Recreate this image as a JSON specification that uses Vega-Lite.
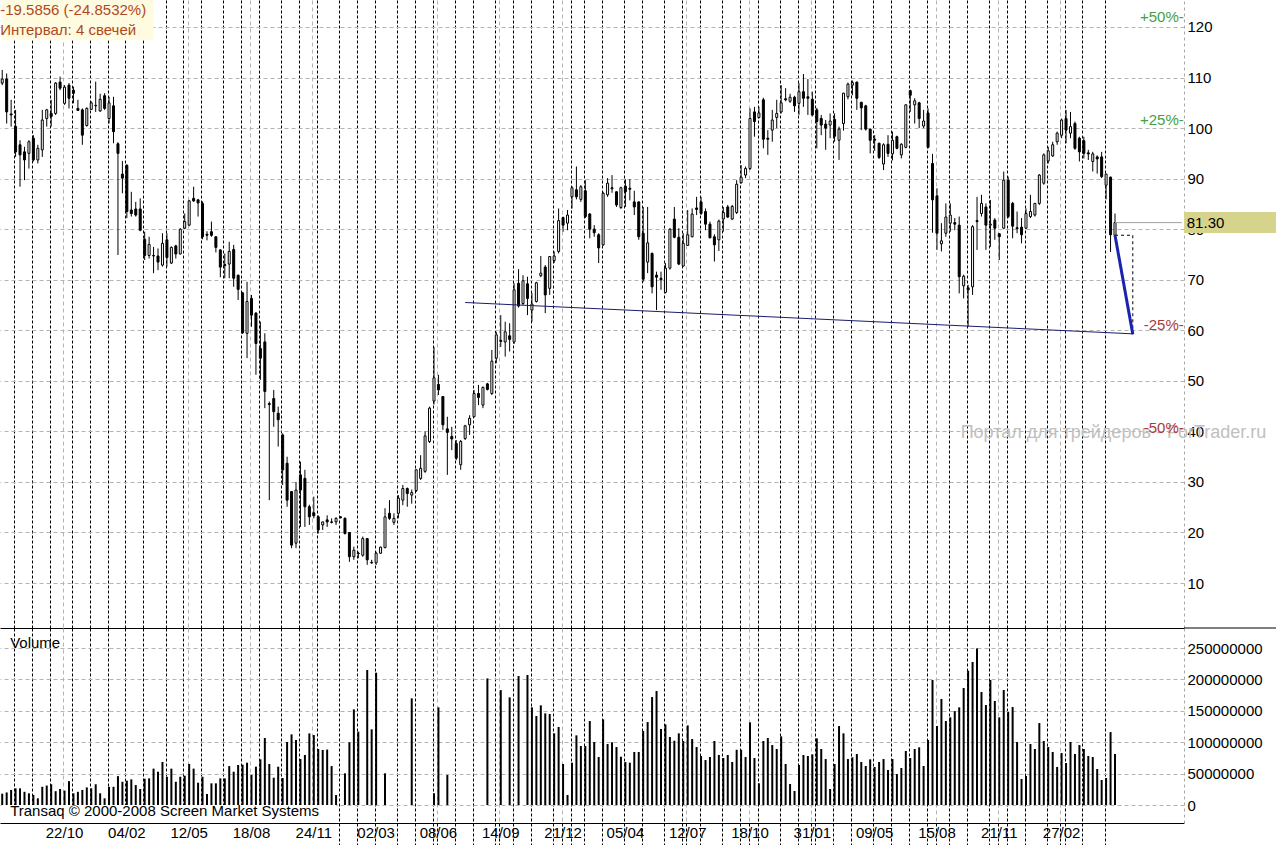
{
"$schema": "https://vega.github.io/schema/vega-lite/v6.json",
"padding": 0,
"background": "white",
"spacing": 0,
"bounds": "flush",
"config": {"view": {"stroke": null}, "font": "Liberation Sans", "axis": {"labelOverlap": false}},
"datasets": {
"one": [{}],
"bars": [
{"d":"2007-07-16","o":108.9,"h":111.5,"l":108.5,"c":109.7,"v":18000000},
{"d":"2007-07-23","o":109.7,"h":110.8,"l":100.9,"c":103.2,"v":20000000},
{"d":"2007-07-30","o":102.8,"h":105.6,"l":100.3,"c":102.6,"v":24000000},
{"d":"2007-08-06","o":100.3,"h":103.6,"l":94.3,"c":95.3,"v":26500000},
{"d":"2007-08-13","o":96.7,"h":97.6,"l":88.4,"c":94.7,"v":26500000},
{"d":"2007-08-20","o":95.3,"h":96.3,"l":89.7,"c":93.7,"v":21000000},
{"d":"2007-08-27","o":95.0,"h":97.6,"l":92.0,"c":97.3,"v":18600000},
{"d":"2007-09-03","o":98.0,"h":98.6,"l":93.4,"c":93.7,"v":16000000},
{"d":"2007-09-10","o":93.7,"h":96.7,"l":93.0,"c":96.0,"v":10600000},
{"d":"2007-09-17","o":95.7,"h":103.6,"l":94.3,"c":101.6,"v":29000000},
{"d":"2007-09-24","o":101.9,"h":103.8,"l":100.3,"c":103.6,"v":31000000},
{"d":"2007-10-01","o":102.9,"h":105.6,"l":100.3,"c":102.3,"v":33000000},
{"d":"2007-10-08","o":102.9,"h":109.1,"l":102.6,"c":108.9,"v":22000000},
{"d":"2007-10-15","o":109.1,"h":110.2,"l":107.5,"c":107.9,"v":25500000},
{"d":"2007-10-22","o":104.9,"h":108.5,"l":104.6,"c":108.1,"v":23000000},
{"d":"2007-10-29","o":108.5,"h":108.9,"l":103.9,"c":105.9,"v":38000000},
{"d":"2007-11-05","o":107.5,"h":108.2,"l":104.9,"c":106.9,"v":18600000},
{"d":"2007-11-12","o":103.9,"h":105.6,"l":103.4,"c":103.5,"v":21000000},
{"d":"2007-11-19","o":103.6,"h":103.9,"l":96.7,"c":98.6,"v":24000000},
{"d":"2007-11-26","o":100.5,"h":104.1,"l":100.3,"c":103.9,"v":28000000},
{"d":"2007-12-03","o":103.7,"h":105.3,"l":103.6,"c":105.0,"v":26500000},
{"d":"2007-12-10","o":104.4,"h":109.2,"l":103.2,"c":104.5,"v":33000000},
{"d":"2007-12-17","o":103.4,"h":106.8,"l":103.2,"c":105.7,"v":18600000},
{"d":"2007-12-24","o":106.4,"h":106.9,"l":103.6,"c":103.9,"v":10600000},
{"d":"2008-01-07","o":101.9,"h":106.2,"l":100.9,"c":105.0,"v":29000000},
{"d":"2008-01-14","o":104.4,"h":106.2,"l":97.0,"c":99.3,"v":29000000},
{"d":"2008-01-21","o":96.9,"h":97.2,"l":74.9,"c":95.0,"v":46000000},
{"d":"2008-01-28","o":90.9,"h":93.5,"l":87.1,"c":90.1,"v":37000000},
{"d":"2008-02-04","o":92.6,"h":92.9,"l":82.2,"c":83.5,"v":38700000},
{"d":"2008-02-11","o":83.8,"h":87.4,"l":82.5,"c":83.1,"v":40800000},
{"d":"2008-02-18","o":84.0,"h":85.4,"l":82.5,"c":82.8,"v":31800000},
{"d":"2008-02-25","o":84.0,"h":86.1,"l":79.6,"c":79.8,"v":25500000},
{"d":"2008-03-03","o":78.0,"h":79.5,"l":73.9,"c":74.8,"v":41900000},
{"d":"2008-03-10","o":74.8,"h":78.5,"l":74.2,"c":77.0,"v":42400000},
{"d":"2008-03-17","o":74.8,"h":76.5,"l":71.3,"c":74.7,"v":57900000},
{"d":"2008-03-24","o":74.7,"h":76.2,"l":71.9,"c":73.5,"v":53000000},
{"d":"2008-03-31","o":72.9,"h":79.2,"l":72.6,"c":77.2,"v":68500000},
{"d":"2008-04-07","o":77.9,"h":79.2,"l":72.6,"c":74.4,"v":45000000},
{"d":"2008-04-14","o":73.3,"h":76.6,"l":73.1,"c":76.4,"v":57900000},
{"d":"2008-04-21","o":76.7,"h":76.9,"l":74.2,"c":75.1,"v":37000000},
{"d":"2008-04-28","o":75.1,"h":80.2,"l":75.0,"c":80.0,"v":45000000},
{"d":"2008-05-05","o":80.2,"h":83.1,"l":80.0,"c":81.5,"v":46700000},
{"d":"2008-05-12","o":80.8,"h":85.8,"l":80.6,"c":85.6,"v":65300000},
{"d":"2008-05-19","o":86.1,"h":88.4,"l":85.4,"c":85.6,"v":57900000},
{"d":"2008-05-26","o":85.8,"h":86.0,"l":82.5,"c":85.2,"v":35500000},
{"d":"2008-06-02","o":85.1,"h":85.5,"l":78.0,"c":78.5,"v":45000000},
{"d":"2008-06-09","o":79.0,"h":79.6,"l":77.8,"c":78.8,"v":17500000},
{"d":"2008-06-16","o":79.5,"h":81.5,"l":78.5,"c":78.8,"v":34500000},
{"d":"2008-06-23","o":78.5,"h":78.6,"l":75.4,"c":76.4,"v":34500000},
{"d":"2008-06-30","o":75.9,"h":76.0,"l":70.5,"c":72.5,"v":42400000},
{"d":"2008-07-07","o":73.0,"h":75.2,"l":70.3,"c":72.8,"v":42400000},
{"d":"2008-07-14","o":73.1,"h":77.5,"l":70.3,"c":75.6,"v":62000000},
{"d":"2008-07-21","o":76.0,"h":76.9,"l":68.6,"c":70.3,"v":53000000},
{"d":"2008-07-28","o":70.9,"h":71.0,"l":66.0,"c":68.1,"v":63700000},
{"d":"2008-08-04","o":67.4,"h":67.6,"l":59.3,"c":59.5,"v":64200000},
{"d":"2008-08-11","o":59.4,"h":69.6,"l":54.5,"c":65.7,"v":67400000},
{"d":"2008-08-18","o":66.3,"h":67.0,"l":60.7,"c":63.0,"v":47800000},
{"d":"2008-08-25","o":63.4,"h":63.6,"l":51.2,"c":57.4,"v":61000000},
{"d":"2008-09-01","o":56.4,"h":61.7,"l":50.2,"c":54.5,"v":72700000},
{"d":"2008-09-08","o":57.7,"h":59.4,"l":44.6,"c":47.9,"v":106700000},
{"d":"2008-09-15","o":45.5,"h":45.9,"l":26.4,"c":45.3,"v":65300000},
{"d":"2008-09-22","o":46.5,"h":48.2,"l":40.9,"c":43.9,"v":43500000},
{"d":"2008-09-29","o":43.6,"h":44.9,"l":37.0,"c":42.3,"v":61000000},
{"d":"2008-10-06","o":39.3,"h":39.6,"l":29.4,"c":32.4,"v":43000000},
{"d":"2008-10-13","o":33.7,"h":35.0,"l":25.1,"c":26.4,"v":100300000},
{"d":"2008-10-20","o":28.1,"h":28.2,"l":16.9,"c":17.5,"v":112500000},
{"d":"2008-10-27","o":17.9,"h":30.0,"l":16.9,"c":28.4,"v":103500000},
{"d":"2008-11-03","o":31.4,"h":34.0,"l":21.1,"c":28.4,"v":73200000},
{"d":"2008-11-10","o":30.7,"h":32.4,"l":21.1,"c":25.1,"v":79600000},
{"d":"2008-11-17","o":25.1,"h":25.5,"l":21.5,"c":23.1,"v":114000000},
{"d":"2008-11-24","o":23.9,"h":27.1,"l":22.8,"c":23.3,"v":111400000},
{"d":"2008-12-01","o":23.1,"h":23.4,"l":19.8,"c":20.5,"v":89200000},
{"d":"2008-12-08","o":21.5,"h":22.1,"l":20.5,"c":22.1,"v":87600000},
{"d":"2008-12-15","o":22.5,"h":23.4,"l":21.1,"c":22.1,"v":88300000},
{"d":"2008-12-22","o":22.1,"h":22.8,"l":21.8,"c":22.0,"v":62000000},
{"d":"2008-12-29","o":22.1,"h":23.0,"l":21.5,"c":22.8,"v":15900000},
{"d":"2009-01-05","o":23.1,"h":23.2,"l":22.8,"c":22.9},
{"d":"2009-01-12","o":22.8,"h":23.0,"l":19.6,"c":19.8,"v":50400000},
{"d":"2009-01-19","o":20.0,"h":20.1,"l":14.2,"c":15.2,"v":99800000},
{"d":"2009-01-26","o":15.2,"h":17.2,"l":14.6,"c":16.5,"v":152300000},
{"d":"2009-02-02","o":15.9,"h":16.2,"l":14.9,"c":15.8,"v":116800000},
{"d":"2009-02-09","o":15.5,"h":19.2,"l":15.2,"c":18.8},
{"d":"2009-02-16","o":18.8,"h":18.9,"l":13.6,"c":14.6,"v":214900000},
{"d":"2009-02-23","o":14.1,"h":14.6,"l":13.8,"c":14.0,"v":120500000},
{"d":"2009-03-02","o":14.0,"h":16.2,"l":13.6,"c":15.9,"v":210700000},
{"d":"2009-03-09","o":15.9,"h":17.2,"l":15.8,"c":17.1},
{"d":"2009-03-16","o":17.0,"h":24.8,"l":16.9,"c":23.1,"v":50400000},
{"d":"2009-03-23","o":23.8,"h":26.4,"l":22.5,"c":22.8},
{"d":"2009-03-30","o":22.0,"h":23.8,"l":21.5,"c":22.8},
{"d":"2009-04-06","o":23.8,"h":27.4,"l":22.8,"c":26.8},
{"d":"2009-04-13","o":26.4,"h":29.4,"l":25.4,"c":28.7},
{"d":"2009-04-20","o":28.7,"h":28.9,"l":25.1,"c":27.7},
{"d":"2009-04-27","o":27.4,"h":28.5,"l":25.7,"c":27.9,"v":169800000},
{"d":"2009-05-04","o":28.3,"h":32.5,"l":28.0,"c":32.4},
{"d":"2009-05-11","o":30.7,"h":35.3,"l":30.4,"c":32.7},
{"d":"2009-05-18","o":32.1,"h":40.0,"l":31.8,"c":39.1},
{"d":"2009-05-25","o":38.0,"h":44.9,"l":37.7,"c":44.6},
{"d":"2009-06-01","o":46.0,"h":56.7,"l":45.3,"c":50.6,"v":18600000},
{"d":"2009-06-08","o":49.3,"h":51.2,"l":47.2,"c":48.2,"v":155500000},
{"d":"2009-06-15","o":46.9,"h":47.0,"l":40.3,"c":41.3},
{"d":"2009-06-22","o":40.5,"h":42.9,"l":31.4,"c":39.8,"v":47800000},
{"d":"2009-06-29","o":39.0,"h":40.9,"l":36.3,"c":38.5},
{"d":"2009-07-06","o":37.6,"h":38.3,"l":34.3,"c":34.7},
{"d":"2009-07-13","o":33.4,"h":38.3,"l":32.4,"c":38.0},
{"d":"2009-07-20","o":38.6,"h":41.3,"l":38.3,"c":41.1},
{"d":"2009-07-27","o":41.3,"h":43.2,"l":39.3,"c":42.6},
{"d":"2009-08-03","o":42.9,"h":48.2,"l":42.8,"c":47.5},
{"d":"2009-08-10","o":47.5,"h":49.2,"l":45.2,"c":46.7},
{"d":"2009-08-17","o":45.2,"h":48.9,"l":44.6,"c":48.7},
{"d":"2009-08-24","o":49.4,"h":49.6,"l":48.1,"c":48.3,"v":201600000},
{"d":"2009-08-31","o":47.5,"h":56.1,"l":47.2,"c":53.9},
{"d":"2009-09-07","o":54.5,"h":59.7,"l":53.5,"c":59.1},
{"d":"2009-09-14","o":58.0,"h":63.0,"l":56.7,"c":57.8,"v":183000000},
{"d":"2009-09-21","o":57.7,"h":61.7,"l":54.8,"c":59.7},
{"d":"2009-09-28","o":58.9,"h":61.4,"l":55.8,"c":58.2,"v":171400000},
{"d":"2009-10-05","o":57.7,"h":69.3,"l":57.3,"c":68.0},
{"d":"2009-10-12","o":69.3,"h":72.1,"l":64.5,"c":64.8,"v":205400000},
{"d":"2009-10-19","o":65.3,"h":70.9,"l":65.0,"c":69.8},
{"d":"2009-10-26","o":69.2,"h":70.6,"l":63.0,"c":66.3,"v":207000000},
{"d":"2009-11-02","o":64.0,"h":67.4,"l":61.7,"c":65.2,"v":155500000},
{"d":"2009-11-09","o":65.7,"h":69.6,"l":65.5,"c":69.4,"v":141700000},
{"d":"2009-11-16","o":70.8,"h":74.7,"l":70.5,"c":71.3,"v":158700000},
{"d":"2009-11-23","o":72.5,"h":72.9,"l":63.4,"c":67.0,"v":145900000},
{"d":"2009-11-30","o":68.3,"h":74.7,"l":67.0,"c":74.6,"v":144900000},
{"d":"2009-12-07","o":73.8,"h":75.6,"l":73.3,"c":74.7,"v":114100000},
{"d":"2009-12-14","o":75.6,"h":84.1,"l":75.2,"c":81.7,"v":124200000},
{"d":"2009-12-21","o":82.3,"h":82.5,"l":79.5,"c":80.8,"v":65300000},
{"d":"2009-12-28","o":81.2,"h":83.8,"l":79.8,"c":82.8,"v":15900000},
{"d":"2010-01-11","o":86.4,"h":88.5,"l":84.1,"c":88.2,"v":67400000},
{"d":"2010-01-18","o":87.8,"h":92.4,"l":85.9,"c":86.4,"v":110900000},
{"d":"2010-01-25","o":85.9,"h":88.7,"l":85.4,"c":88.4,"v":93900000},
{"d":"2010-02-01","o":87.6,"h":89.7,"l":82.2,"c":82.5,"v":93900000},
{"d":"2010-02-08","o":83.0,"h":83.2,"l":78.2,"c":80.0,"v":133700000},
{"d":"2010-02-15","o":80.0,"h":80.8,"l":78.5,"c":79.3,"v":100300000},
{"d":"2010-02-22","o":78.9,"h":79.2,"l":73.3,"c":76.3,"v":76400000},
{"d":"2010-03-01","o":76.9,"h":87.4,"l":76.7,"c":87.1,"v":136400000},
{"d":"2010-03-08","o":86.8,"h":90.1,"l":86.4,"c":89.1,"v":97100000},
{"d":"2010-03-15","o":88.2,"h":90.7,"l":87.2,"c":88.0,"v":99800000},
{"d":"2010-03-22","o":87.4,"h":87.5,"l":84.4,"c":84.8,"v":92300000},
{"d":"2010-03-29","o":84.3,"h":88.4,"l":84.0,"c":88.2,"v":76900000},
{"d":"2010-04-05","o":88.5,"h":89.9,"l":84.4,"c":87.4,"v":68500000},
{"d":"2010-04-12","o":88.1,"h":89.9,"l":85.7,"c":87.9,"v":67400000},
{"d":"2010-04-19","o":85.4,"h":87.6,"l":82.8,"c":84.4,"v":84400000},
{"d":"2010-04-26","o":85.4,"h":85.5,"l":77.9,"c":78.5,"v":84400000},
{"d":"2010-05-03","o":79.2,"h":84.4,"l":69.6,"c":70.1,"v":117800000},
{"d":"2010-05-10","o":73.5,"h":84.4,"l":71.3,"c":77.3,"v":132100000},
{"d":"2010-05-17","o":75.2,"h":75.4,"l":67.3,"c":68.6,"v":171900000},
{"d":"2010-05-24","o":70.9,"h":71.6,"l":64.0,"c":70.5,"v":181500000},
{"d":"2010-05-31","o":70.3,"h":71.6,"l":68.0,"c":70.0,"v":121000000},
{"d":"2010-06-07","o":67.5,"h":73.3,"l":67.3,"c":72.3,"v":128400000},
{"d":"2010-06-14","o":72.3,"h":80.2,"l":72.0,"c":80.0,"v":108300000},
{"d":"2010-06-21","o":82.0,"h":84.4,"l":78.2,"c":78.4,"v":102400000},
{"d":"2010-06-28","o":78.4,"h":80.2,"l":72.9,"c":73.1,"v":114100000},
{"d":"2010-07-05","o":72.7,"h":79.2,"l":72.6,"c":77.2,"v":101900000},
{"d":"2010-07-12","o":76.8,"h":83.8,"l":76.7,"c":78.9,"v":126800000},
{"d":"2010-07-19","o":78.5,"h":84.1,"l":78.4,"c":83.0,"v":105100000},
{"d":"2010-07-26","o":84.2,"h":86.4,"l":82.8,"c":83.9,"v":92300000},
{"d":"2010-08-02","o":85.4,"h":86.4,"l":82.8,"c":83.1,"v":78000000},
{"d":"2010-08-09","o":83.5,"h":84.1,"l":79.8,"c":81.0,"v":71600000},
{"d":"2010-08-16","o":81.0,"h":81.5,"l":78.2,"c":78.3,"v":76400000},
{"d":"2010-08-23","o":78.5,"h":79.0,"l":73.6,"c":76.9,"v":101900000},
{"d":"2010-08-30","o":77.9,"h":81.9,"l":75.7,"c":81.6,"v":79600000},
{"d":"2010-09-06","o":82.0,"h":84.4,"l":79.5,"c":83.3,"v":74800000},
{"d":"2010-09-13","o":84.4,"h":84.8,"l":82.2,"c":82.4,"v":79600000},
{"d":"2010-09-20","o":82.0,"h":84.8,"l":81.8,"c":84.5,"v":68500000},
{"d":"2010-09-27","o":83.3,"h":89.7,"l":83.0,"c":88.9,"v":88000000},
{"d":"2010-10-04","o":89.2,"h":92.7,"l":89.0,"c":90.3,"v":88000000},
{"d":"2010-10-11","o":90.7,"h":92.4,"l":90.1,"c":92.0,"v":76400000},
{"d":"2010-10-18","o":92.0,"h":103.9,"l":91.7,"c":101.9,"v":131600000},
{"d":"2010-10-25","o":103.2,"h":104.2,"l":98.3,"c":101.3,"v":74800000},
{"d":"2010-11-01","o":102.1,"h":104.2,"l":101.9,"c":103.0,"v":34500000},
{"d":"2010-11-08","o":105.6,"h":106.0,"l":96.0,"c":97.8,"v":101900000},
{"d":"2010-11-15","o":98.0,"h":99.6,"l":94.7,"c":97.8,"v":106700000},
{"d":"2010-11-22","o":99.6,"h":103.6,"l":97.3,"c":101.6,"v":95500000},
{"d":"2010-11-29","o":102.1,"h":105.6,"l":100.0,"c":102.9,"v":89200000},
{"d":"2010-12-06","o":103.2,"h":108.5,"l":102.9,"c":105.0,"v":109300000},
{"d":"2010-12-13","o":105.8,"h":107.9,"l":105.3,"c":105.6,"v":65300000},
{"d":"2010-12-20","o":105.3,"h":106.8,"l":105.0,"c":106.1,"v":33400000},
{"d":"2010-12-27","o":106.1,"h":106.4,"l":103.2,"c":104.4,"v":22300000},
{"d":"2011-01-10","o":104.9,"h":108.9,"l":102.6,"c":107.2,"v":63700000},
{"d":"2011-01-17","o":107.2,"h":110.7,"l":104.2,"c":105.9,"v":79600000},
{"d":"2011-01-24","o":106.2,"h":109.7,"l":102.6,"c":105.9,"v":78000000},
{"d":"2011-01-31","o":105.7,"h":107.2,"l":102.3,"c":102.6,"v":80700000},
{"d":"2011-02-07","o":103.6,"h":104.0,"l":96.0,"c":101.3,"v":106100000},
{"d":"2011-02-14","o":101.9,"h":102.6,"l":98.6,"c":100.6,"v":89200000},
{"d":"2011-02-21","o":100.8,"h":101.6,"l":95.7,"c":100.0,"v":73200000},
{"d":"2011-02-28","o":100.6,"h":102.9,"l":98.0,"c":101.4,"v":25500000},
{"d":"2011-03-07","o":101.7,"h":102.9,"l":97.3,"c":98.4,"v":65300000},
{"d":"2011-03-14","o":97.6,"h":100.3,"l":93.7,"c":99.8,"v":125800000},
{"d":"2011-03-21","o":100.9,"h":107.0,"l":99.5,"c":106.9,"v":114100000},
{"d":"2011-03-28","o":106.2,"h":109.0,"l":105.7,"c":108.7,"v":73200000},
{"d":"2011-04-04","o":108.5,"h":109.4,"l":106.5,"c":109.0,"v":75900000},
{"d":"2011-04-11","o":109.1,"h":109.2,"l":103.6,"c":105.9,"v":81200000},
{"d":"2011-04-18","o":105.1,"h":105.2,"l":99.6,"c":104.0,"v":68500000},
{"d":"2011-04-25","o":104.4,"h":104.6,"l":99.5,"c":99.8,"v":62100000},
{"d":"2011-05-02","o":99.8,"h":99.9,"l":95.0,"c":97.6,"v":72700000},
{"d":"2011-05-09","o":97.8,"h":98.6,"l":95.5,"c":97.6,"v":60500000},
{"d":"2011-05-16","o":97.0,"h":97.1,"l":93.9,"c":94.2,"v":68500000},
{"d":"2011-05-23","o":92.9,"h":97.0,"l":91.7,"c":96.7,"v":73200000},
{"d":"2011-05-30","o":96.8,"h":98.6,"l":94.3,"c":95.0,"v":55700000},
{"d":"2011-06-06","o":94.9,"h":99.3,"l":93.6,"c":97.6,"v":73200000},
{"d":"2011-06-13","o":98.3,"h":98.5,"l":95.8,"c":96.0,"v":49400000},
{"d":"2011-06-20","o":94.7,"h":97.0,"l":94.0,"c":96.8,"v":58900000},
{"d":"2011-06-27","o":96.2,"h":104.7,"l":96.0,"c":104.6,"v":86000000},
{"d":"2011-07-04","o":107.4,"h":107.6,"l":103.2,"c":106.5,"v":74800000},
{"d":"2011-07-11","o":104.6,"h":105.9,"l":100.9,"c":105.4,"v":89200000},
{"d":"2011-07-18","o":105.0,"h":105.2,"l":100.0,"c":101.9,"v":91800000},
{"d":"2011-07-25","o":100.4,"h":103.6,"l":100.0,"c":101.4,"v":62100000},
{"d":"2011-08-01","o":103.0,"h":103.9,"l":96.0,"c":96.2,"v":103500000},
{"d":"2011-08-08","o":93.0,"h":94.9,"l":79.3,"c":85.8,"v":199000000},
{"d":"2011-08-15","o":86.6,"h":88.1,"l":75.9,"c":79.2,"v":125800000},
{"d":"2011-08-22","o":77.1,"h":81.2,"l":75.6,"c":77.7,"v":168800000},
{"d":"2011-08-29","o":79.2,"h":85.1,"l":78.5,"c":82.4,"v":133700000},
{"d":"2011-09-05","o":81.2,"h":85.1,"l":79.5,"c":82.8,"v":139600000},
{"d":"2011-09-12","o":81.3,"h":82.2,"l":79.8,"c":81.0,"v":149600000},
{"d":"2011-09-19","o":80.8,"h":82.5,"l":67.3,"c":70.6,"v":155500000},
{"d":"2011-09-26","o":68.8,"h":71.0,"l":66.3,"c":70.7,"v":186300000},
{"d":"2011-10-03","o":68.4,"h":69.0,"l":60.7,"c":68.0,"v":213800000},
{"d":"2011-10-10","o":68.6,"h":80.8,"l":67.0,"c":80.5,"v":227700000},
{"d":"2011-10-17","o":81.7,"h":86.4,"l":75.9,"c":81.5,"v":249400000},
{"d":"2011-10-24","o":83.1,"h":86.8,"l":82.5,"c":85.1,"v":179900000},
{"d":"2011-10-31","o":84.4,"h":85.1,"l":75.9,"c":80.8,"v":159200000},
{"d":"2011-11-07","o":80.8,"h":85.8,"l":76.5,"c":81.0,"v":199000000},
{"d":"2011-11-14","o":81.8,"h":82.2,"l":77.9,"c":80.2,"v":165600000},
{"d":"2011-11-21","o":79.1,"h":79.2,"l":73.9,"c":78.5,"v":139600000},
{"d":"2011-11-28","o":80.2,"h":91.4,"l":80.0,"c":89.7,"v":183100000},
{"d":"2011-12-05","o":89.7,"h":90.4,"l":82.2,"c":82.5,"v":148100000},
{"d":"2011-12-12","o":85.1,"h":85.4,"l":78.2,"c":80.6,"v":156000000},
{"d":"2011-12-19","o":80.3,"h":83.5,"l":79.2,"c":80.1,"v":100300000},
{"d":"2011-12-26","o":80.4,"h":82.2,"l":77.2,"c":78.9,"v":41400000},
{"d":"2012-01-02","o":80.2,"h":84.1,"l":80.0,"c":83.1,"v":46200000},
{"d":"2012-01-09","o":82.5,"h":86.8,"l":82.2,"c":83.5,"v":97100000},
{"d":"2012-01-16","o":82.8,"h":85.2,"l":82.5,"c":85.1,"v":89200000},
{"d":"2012-01-23","o":85.1,"h":90.9,"l":84.8,"c":90.7,"v":130500000},
{"d":"2012-01-30","o":89.1,"h":95.0,"l":88.8,"c":94.7,"v":101900000},
{"d":"2012-02-06","o":93.5,"h":96.3,"l":93.0,"c":95.5,"v":92300000},
{"d":"2012-02-13","o":94.5,"h":97.3,"l":94.3,"c":96.7,"v":84400000},
{"d":"2012-02-20","o":97.3,"h":99.3,"l":96.7,"c":99.0,"v":60500000},
{"d":"2012-02-27","o":98.6,"h":101.9,"l":98.0,"c":101.6,"v":82800000},
{"d":"2012-03-05","o":101.9,"h":103.6,"l":97.0,"c":99.6,"v":66900000},
{"d":"2012-03-12","o":99.0,"h":103.2,"l":98.0,"c":100.3,"v":100300000},
{"d":"2012-03-19","o":100.9,"h":101.3,"l":95.7,"c":96.0,"v":81200000},
{"d":"2012-03-26","o":98.0,"h":98.3,"l":93.4,"c":95.3,"v":95500000},
{"d":"2012-04-02","o":97.5,"h":98.3,"l":94.0,"c":95.0,"v":89200000},
{"d":"2012-04-09","o":95.1,"h":95.7,"l":93.7,"c":94.9,"v":78000000},
{"d":"2012-04-16","o":93.4,"h":95.3,"l":91.4,"c":94.9,"v":76400000},
{"d":"2012-04-23","o":94.3,"h":94.6,"l":91.0,"c":93.9,"v":57300000},
{"d":"2012-04-30","o":94.3,"h":95.3,"l":90.1,"c":90.4,"v":39800000},
{"d":"2012-05-07","o":88.7,"h":91.0,"l":85.9,"c":90.9,"v":43000000},
{"d":"2012-05-14","o":90.3,"h":90.4,"l":75.5,"c":78.9,"v":116200000},
{"d":"2012-05-21","o":78.8,"h":83.1,"l":78.3,"c":81.3,"v":81200000}
],
"levels": [
{"lvl":121.95,"t":"+50%-"},
{"lvl":101.63,"t":"+25%-"},
{"lvl":60.98,"t":"-25%-"},
{"lvl":40.65,"t":"-50%-"}
]
},
"vconcat": [
{
"width": 1184,
"height": 628,
"data": {"name": "bars"},
"encoding": {
"x": {"field": "d", "type": "ordinal",
"scale": {"type": "band", "paddingInner": 0, "paddingOuter": 0, "domain": ["2007-07-16","2007-07-23","2007-07-30","2007-08-06","2007-08-13","2007-08-20","2007-08-27","2007-09-03","2007-09-10","2007-09-17","2007-09-24","2007-10-01","2007-10-08","2007-10-15","2007-10-22","2007-10-29","2007-11-05","2007-11-12","2007-11-19","2007-11-26","2007-12-03","2007-12-10","2007-12-17","2007-12-24","2008-01-07","2008-01-14","2008-01-21","2008-01-28","2008-02-04","2008-02-11","2008-02-18","2008-02-25","2008-03-03","2008-03-10","2008-03-17","2008-03-24","2008-03-31","2008-04-07","2008-04-14","2008-04-21","2008-04-28","2008-05-05","2008-05-12","2008-05-19","2008-05-26","2008-06-02","2008-06-09","2008-06-16","2008-06-23","2008-06-30","2008-07-07","2008-07-14","2008-07-21","2008-07-28","2008-08-04","2008-08-11","2008-08-18","2008-08-25","2008-09-01","2008-09-08","2008-09-15","2008-09-22","2008-09-29","2008-10-06","2008-10-13","2008-10-20","2008-10-27","2008-11-03","2008-11-10","2008-11-17","2008-11-24","2008-12-01","2008-12-08","2008-12-15","2008-12-22","2008-12-29","2009-01-05","2009-01-12","2009-01-19","2009-01-26","2009-02-02","2009-02-09","2009-02-16","2009-02-23","2009-03-02","2009-03-09","2009-03-16","2009-03-23","2009-03-30","2009-04-06","2009-04-13","2009-04-20","2009-04-27","2009-05-04","2009-05-11","2009-05-18","2009-05-25","2009-06-01","2009-06-08","2009-06-15","2009-06-22","2009-06-29","2009-07-06","2009-07-13","2009-07-20","2009-07-27","2009-08-03","2009-08-10","2009-08-17","2009-08-24","2009-08-31","2009-09-07","2009-09-14","2009-09-21","2009-09-28","2009-10-05","2009-10-12","2009-10-19","2009-10-26","2009-11-02","2009-11-09","2009-11-16","2009-11-23","2009-11-30","2009-12-07","2009-12-14","2009-12-21","2009-12-28","2010-01-11","2010-01-18","2010-01-25","2010-02-01","2010-02-08","2010-02-15","2010-02-22","2010-03-01","2010-03-08","2010-03-15","2010-03-22","2010-03-29","2010-04-05","2010-04-12","2010-04-19","2010-04-26","2010-05-03","2010-05-10","2010-05-17","2010-05-24","2010-05-31","2010-06-07","2010-06-14","2010-06-21","2010-06-28","2010-07-05","2010-07-12","2010-07-19","2010-07-26","2010-08-02","2010-08-09","2010-08-16","2010-08-23","2010-08-30","2010-09-06","2010-09-13","2010-09-20","2010-09-27","2010-10-04","2010-10-11","2010-10-18","2010-10-25","2010-11-01","2010-11-08","2010-11-15","2010-11-22","2010-11-29","2010-12-06","2010-12-13","2010-12-20","2010-12-27","2011-01-10","2011-01-17","2011-01-24","2011-01-31","2011-02-07","2011-02-14","2011-02-21","2011-02-28","2011-03-07","2011-03-14","2011-03-21","2011-03-28","2011-04-04","2011-04-11","2011-04-18","2011-04-25","2011-05-02","2011-05-09","2011-05-16","2011-05-23","2011-05-30","2011-06-06","2011-06-13","2011-06-20","2011-06-27","2011-07-04","2011-07-11","2011-07-18","2011-07-25","2011-08-01","2011-08-08","2011-08-15","2011-08-22","2011-08-29","2011-09-05","2011-09-12","2011-09-19","2011-09-26","2011-10-03","2011-10-10","2011-10-17","2011-10-24","2011-10-31","2011-11-07","2011-11-14","2011-11-21","2011-11-28","2011-12-05","2011-12-12","2011-12-19","2011-12-26","2012-01-02","2012-01-09","2012-01-16","2012-01-23","2012-01-30","2012-02-06","2012-02-13","2012-02-20","2012-02-27","2012-03-05","2012-03-12","2012-03-19","2012-03-26","2012-04-02","2012-04-09","2012-04-16","2012-04-23","2012-04-30","2012-05-07","2012-05-14","2012-05-21","2012-05-28","2012-06-04","2012-06-11","2012-06-18","2012-06-25","2012-07-02","2012-07-09","2012-07-16","2012-07-23","2012-07-30","2012-08-06","2012-08-13","2012-08-20","2012-08-27","2012-09-03"]},
"axis": {"orient": "bottom", "title": null, "labels": false, "ticks": false, "domain": true, "domainColor": "black", "domainWidth": 1, "bandPosition": 0.3, "grid": true, "gridWidth": 1, "gridOpacity": 1,
"values": ["2007-08-06","2007-09-03","2007-10-01","2007-11-05","2007-12-03","2008-01-07","2008-02-04","2008-03-03","2008-04-07","2008-05-05","2008-06-02","2008-07-07","2008-08-04","2008-09-01","2008-10-06","2008-11-03","2008-12-01","2009-01-05","2009-02-02","2009-03-02","2009-04-06","2009-05-04","2009-06-01","2009-07-06","2009-08-03","2009-09-07","2009-10-05","2009-11-02","2009-12-07","2010-01-11","2010-02-01","2010-03-01","2010-04-05","2010-05-03","2010-06-07","2010-07-05","2010-08-02","2010-09-06","2010-10-04","2010-11-01","2010-12-06","2011-01-10","2011-02-07","2011-03-07","2011-04-04","2011-05-09","2011-06-06","2011-07-04","2011-08-01","2011-09-05","2011-10-03","2011-11-07","2011-12-05","2012-01-02","2012-02-06","2012-03-05","2012-04-02","2012-05-07","2007-10-22","2008-05-12","2008-08-18","2008-11-24","2009-06-08","2009-09-14","2009-12-21","2010-07-12","2010-10-18","2011-01-31","2011-08-15","2011-11-21","2012-02-27"],
"gridColor": {"condition": {"test": "indexof(['2007-10-22','2008-05-12','2008-08-18','2008-11-24','2009-06-08','2009-09-14','2009-12-21','2010-07-12','2010-10-18','2011-01-31','2011-08-15','2011-11-21','2012-02-27'], datum.value) >= 0", "value": "#b4b4b4"}, "value": "#000000"},
"gridDash": {"condition": {"test": "indexof(['2007-10-22','2008-05-12','2008-08-18','2008-11-24','2009-06-08','2009-09-14','2009-12-21','2010-07-12','2010-10-18','2011-01-31','2011-08-15','2011-11-21','2012-02-27'], datum.value) >= 0", "value": [4, 3]}, "value": [3, 2]}
}
}
},
"layer": [
{"mark": {"type": "rule", "color": "black", "strokeWidth": 1},
"encoding": {"y": {"field": "l", "type": "quantitative", "scale": {"domain": [1.108, 125.34], "nice": false, "zero": false},
"axis": {"orient": "right", "title": null, "values": [10,20,30,40,50,60,70,80,90,100,110,120], "labelOverlap": false, "grid": true, "gridColor": "#b4b4b4", "gridDash": [4,3], "ticks": false, "domain": true, "domainColor": "#a8a8a8", "domainDash": [3,3], "labelFontSize": 15, "labelColor": "black", "labelPadding": 3, "labelFont": "Liberation Sans"}},
"y2": {"field": "h"}}},
{"mark": {"type": "bar", "size": 2, "stroke": "black", "strokeWidth": 1},
"encoding": {"y": {"field": "o", "type": "quantitative"}, "y2": {"field": "c"},
"fill": {"condition": {"test": "datum.c >= datum.o", "value": "white"}, "value": "black"}}},
{"data": {"name": "one"}, "mark": {"type": "rect", "color": "#fffbe0"},
"encoding": {"x": {"datum": "2007-07-16", "type": "ordinal"}, "x2": {"datum": "2008-03-17"},
"y": {"datum": 125.34, "type": "quantitative"}, "y2": {"datum": 117.4}}},
{"data": {"name": "one"}, "mark": {"type": "text", "align": "left", "baseline": "middle", "fontSize": 15, "color": "#b0481e", "dx": -2, "text": "-19.5856 (-24.8532%)"},
"encoding": {"x": {"datum": "2007-07-16", "type": "ordinal"}, "y": {"datum": 123.3, "type": "quantitative"}}},
{"data": {"name": "one"}, "mark": {"type": "text", "align": "left", "baseline": "middle", "fontSize": 15, "color": "#b0481e", "dx": -2, "text": "Интервал: 4 свечей"},
"encoding": {"x": {"datum": "2007-07-16", "type": "ordinal"}, "y": {"datum": 119.5, "type": "quantitative"}}},
{"data": {"name": "one"}, "mark": {"type": "text", "align": "left", "baseline": "middle", "fontSize": 18, "color": "#c0c0c0", "dx": -3, "text": "Портал для трейдеров - ForTrader.ru"},
"encoding": {"x": {"datum": "2011-09-26", "type": "ordinal"}, "y": {"datum": 39.7, "type": "quantitative"}}},
{"data": {"name": "levels"},
"mark": {"type": "text", "align": "right", "baseline": "middle", "fontSize": 15, "dx": 2},
"encoding": {"x": {"datum": "2012-09-03", "type": "ordinal"}, "y": {"field": "lvl", "type": "quantitative"}, "text": {"field": "t"},
"color": {"condition": {"test": "datum.lvl > 81.3", "value": "#44a044"}, "value": "#a83c3c"}}},
{"data": {"name": "one"}, "mark": {"type": "rule", "color": "#1c1c6e", "strokeWidth": 1},
"encoding": {"x": {"datum": "2009-07-20", "type": "ordinal"}, "x2": {"datum": "2012-06-18"},
"y": {"datum": 65.5, "type": "quantitative"}, "y2": {"datum": 59.3}}},
{"data": {"name": "one"}, "mark": {"type": "rule", "color": "black", "strokeWidth": 1, "strokeDash": [3,3]},
"encoding": {"x": {"datum": "2012-05-21", "type": "ordinal"}, "x2": {"datum": "2012-06-18"},
"y": {"datum": 78.8, "type": "quantitative"}}},
{"data": {"name": "one"}, "mark": {"type": "rule", "color": "black", "strokeWidth": 1, "strokeDash": [3,3]},
"encoding": {"x": {"datum": "2012-06-18", "type": "ordinal"},
"y": {"datum": 78.8, "type": "quantitative"}, "y2": {"datum": 59.21}}},
{"data": {"name": "one"}, "mark": {"type": "rule", "color": "#1a22b0", "strokeWidth": 3},
"encoding": {"x": {"datum": "2012-05-21", "type": "ordinal"}, "x2": {"datum": "2012-06-18"},
"y": {"datum": 78.8, "type": "quantitative"}, "y2": {"datum": 59.21}}},
{"data": {"name": "one"}, "mark": {"type": "rule", "color": "#a0a0a0", "strokeWidth": 1},
"encoding": {"x": {"datum": "2012-05-21", "type": "ordinal"}, "x2": {"datum": "2012-09-03"},
"y": {"datum": 81.3, "type": "quantitative"}}},
{"data": {"name": "one"}, "mark": {"type": "point", "filled": true, "color": "#d6d38c", "opacity": 1, "size": 441, "shape": "M0.21,-1H8.97V1H0.21Z"},
"encoding": {"x": {"datum": "2012-09-03", "type": "ordinal"}, "y": {"datum": 81.3, "type": "quantitative"}}},
{"data": {"name": "one"}, "mark": {"type": "text", "align": "left", "baseline": "middle", "fontSize": 15, "color": "black", "dx": 5, "text": "81.30"},
"encoding": {"x": {"datum": "2012-09-03", "type": "ordinal"}, "y": {"datum": 81.3, "type": "quantitative"}}}
]
},
{
"width": 1184,
"height": 195,
"data": {"name": "bars"},
"encoding": {
"x": {"field": "d", "type": "ordinal",
"scale": {"type": "band", "paddingInner": 0, "paddingOuter": 0, "domain": ["2007-07-16","2007-07-23","2007-07-30","2007-08-06","2007-08-13","2007-08-20","2007-08-27","2007-09-03","2007-09-10","2007-09-17","2007-09-24","2007-10-01","2007-10-08","2007-10-15","2007-10-22","2007-10-29","2007-11-05","2007-11-12","2007-11-19","2007-11-26","2007-12-03","2007-12-10","2007-12-17","2007-12-24","2008-01-07","2008-01-14","2008-01-21","2008-01-28","2008-02-04","2008-02-11","2008-02-18","2008-02-25","2008-03-03","2008-03-10","2008-03-17","2008-03-24","2008-03-31","2008-04-07","2008-04-14","2008-04-21","2008-04-28","2008-05-05","2008-05-12","2008-05-19","2008-05-26","2008-06-02","2008-06-09","2008-06-16","2008-06-23","2008-06-30","2008-07-07","2008-07-14","2008-07-21","2008-07-28","2008-08-04","2008-08-11","2008-08-18","2008-08-25","2008-09-01","2008-09-08","2008-09-15","2008-09-22","2008-09-29","2008-10-06","2008-10-13","2008-10-20","2008-10-27","2008-11-03","2008-11-10","2008-11-17","2008-11-24","2008-12-01","2008-12-08","2008-12-15","2008-12-22","2008-12-29","2009-01-05","2009-01-12","2009-01-19","2009-01-26","2009-02-02","2009-02-09","2009-02-16","2009-02-23","2009-03-02","2009-03-09","2009-03-16","2009-03-23","2009-03-30","2009-04-06","2009-04-13","2009-04-20","2009-04-27","2009-05-04","2009-05-11","2009-05-18","2009-05-25","2009-06-01","2009-06-08","2009-06-15","2009-06-22","2009-06-29","2009-07-06","2009-07-13","2009-07-20","2009-07-27","2009-08-03","2009-08-10","2009-08-17","2009-08-24","2009-08-31","2009-09-07","2009-09-14","2009-09-21","2009-09-28","2009-10-05","2009-10-12","2009-10-19","2009-10-26","2009-11-02","2009-11-09","2009-11-16","2009-11-23","2009-11-30","2009-12-07","2009-12-14","2009-12-21","2009-12-28","2010-01-11","2010-01-18","2010-01-25","2010-02-01","2010-02-08","2010-02-15","2010-02-22","2010-03-01","2010-03-08","2010-03-15","2010-03-22","2010-03-29","2010-04-05","2010-04-12","2010-04-19","2010-04-26","2010-05-03","2010-05-10","2010-05-17","2010-05-24","2010-05-31","2010-06-07","2010-06-14","2010-06-21","2010-06-28","2010-07-05","2010-07-12","2010-07-19","2010-07-26","2010-08-02","2010-08-09","2010-08-16","2010-08-23","2010-08-30","2010-09-06","2010-09-13","2010-09-20","2010-09-27","2010-10-04","2010-10-11","2010-10-18","2010-10-25","2010-11-01","2010-11-08","2010-11-15","2010-11-22","2010-11-29","2010-12-06","2010-12-13","2010-12-20","2010-12-27","2011-01-10","2011-01-17","2011-01-24","2011-01-31","2011-02-07","2011-02-14","2011-02-21","2011-02-28","2011-03-07","2011-03-14","2011-03-21","2011-03-28","2011-04-04","2011-04-11","2011-04-18","2011-04-25","2011-05-02","2011-05-09","2011-05-16","2011-05-23","2011-05-30","2011-06-06","2011-06-13","2011-06-20","2011-06-27","2011-07-04","2011-07-11","2011-07-18","2011-07-25","2011-08-01","2011-08-08","2011-08-15","2011-08-22","2011-08-29","2011-09-05","2011-09-12","2011-09-19","2011-09-26","2011-10-03","2011-10-10","2011-10-17","2011-10-24","2011-10-31","2011-11-07","2011-11-14","2011-11-21","2011-11-28","2011-12-05","2011-12-12","2011-12-19","2011-12-26","2012-01-02","2012-01-09","2012-01-16","2012-01-23","2012-01-30","2012-02-06","2012-02-13","2012-02-20","2012-02-27","2012-03-05","2012-03-12","2012-03-19","2012-03-26","2012-04-02","2012-04-09","2012-04-16","2012-04-23","2012-04-30","2012-05-07","2012-05-14","2012-05-21","2012-05-28","2012-06-04","2012-06-11","2012-06-18","2012-06-25","2012-07-02","2012-07-09","2012-07-16","2012-07-23","2012-07-30","2012-08-06","2012-08-13","2012-08-20","2012-08-27","2012-09-03"]},
"axis": {"orient": "bottom", "title": null, "domain": true, "domainColor": "black", "domainWidth": 1, "bandPosition": 0.3, "grid": true, "gridWidth": 1, "gridOpacity": 1,
"values": ["2007-08-06","2007-09-03","2007-10-01","2007-11-05","2007-12-03","2008-01-07","2008-02-04","2008-03-03","2008-04-07","2008-05-05","2008-06-02","2008-07-07","2008-08-04","2008-09-01","2008-10-06","2008-11-03","2008-12-01","2009-01-05","2009-02-02","2009-03-02","2009-04-06","2009-05-04","2009-06-01","2009-07-06","2009-08-03","2009-09-07","2009-10-05","2009-11-02","2009-12-07","2010-01-11","2010-02-01","2010-03-01","2010-04-05","2010-05-03","2010-06-07","2010-07-05","2010-08-02","2010-09-06","2010-10-04","2010-11-01","2010-12-06","2011-01-10","2011-02-07","2011-03-07","2011-04-04","2011-05-09","2011-06-06","2011-07-04","2011-08-01","2011-09-05","2011-10-03","2011-11-07","2011-12-05","2012-01-02","2012-02-06","2012-03-05","2012-04-02","2012-05-07","2007-10-22","2008-05-12","2008-08-18","2008-11-24","2009-06-08","2009-09-14","2009-12-21","2010-07-12","2010-10-18","2011-01-31","2011-08-15","2011-11-21","2012-02-27"],
"gridColor": {"condition": {"test": "indexof(['2007-10-22','2008-05-12','2008-08-18','2008-11-24','2009-06-08','2009-09-14','2009-12-21','2010-07-12','2010-10-18','2011-01-31','2011-08-15','2011-11-21','2012-02-27'], datum.value) >= 0", "value": "#b4b4b4"}, "value": "#000000"},
"gridDash": {"condition": {"test": "indexof(['2007-10-22','2008-05-12','2008-08-18','2008-11-24','2009-06-08','2009-09-14','2009-12-21','2010-07-12','2010-10-18','2011-01-31','2011-08-15','2011-11-21','2012-02-27'], datum.value) >= 0", "value": [4, 3]}, "value": [3, 2]},
"ticks": true, "tickSize": 22, "tickWidth": 1, "tickDash": [3, 2],
"tickColor": {"condition": {"test": "datum.value < '2008-12-29'", "value": "rgba(0,0,0,0)"}, "value": "#000000"},
"labelExpr": "indexof(['2007-10-22','2008-02-04','2008-05-12','2008-08-18','2008-11-24','2009-03-02','2009-06-08','2009-09-14','2009-12-21','2010-04-05','2010-07-12','2010-10-18','2011-01-31','2011-05-09','2011-08-15','2011-11-21','2012-02-27'], datum.value) >= 0 ? slice(datum.value, 8, 10) + '/' + slice(datum.value, 5, 7) : ''",
"labelOverlap": false, "labelFlush": false, "labelAngle": 0, "labelFontSize": 15, "labelColor": "black", "labelPadding": -20, "labelFont": "Liberation Sans"
}
}
},
"layer": [
{"transform": [{"filter": "isValid(datum.v)"}],
"mark": {"type": "rule", "color": "black", "strokeWidth": 2},
"encoding": {"y": {"field": "v", "type": "quantitative", "scale": {"domain": [-28660000, 281850000], "nice": false, "zero": false},
"axis": {"orient": "right", "title": null, "values": [0, 50000000, 100000000, 150000000, 200000000, 250000000], "tickCount": 7, "labelOverlap": false, "labelBound": false, "labelSeparation": -25, "labelLineHeight": 12, "format": "d", "grid": true, "gridColor": "#b4b4b4", "gridDash": [4,3], "ticks": false, "domain": true, "domainColor": "#a8a8a8", "domainDash": [3,3], "labelFontSize": 15, "labelColor": "black", "labelPadding": 3, "labelFont": "Liberation Sans"}},
"y2": {"datum": 0}}},
{"data": {"name": "one"}, "mark": {"type": "rect", "color": "white"},
"encoding": {"x": {"datum": "2007-07-16", "type": "ordinal"}, "x2": {"datum": "2008-12-29"},
"y": {"datum": 0, "type": "quantitative"}, "y2": {"datum": -28660000}}},
{"data": {"name": "one"}, "mark": {"type": "point", "filled": false, "stroke": "black", "strokeWidth": 1, "opacity": 1, "size": 441, "shape": "M0.21,0H8.97"},
"encoding": {"x": {"datum": "2012-09-03", "type": "ordinal"}, "y": {"datum": 281850000, "type": "quantitative"}}},
{"data": {"name": "one"}, "mark": {"type": "text", "align": "left", "baseline": "middle", "fontSize": 15, "color": "black", "dx": -1, "text": "Volume"},
"encoding": {"x": {"datum": "2007-07-30", "type": "ordinal"}, "y": {"datum": 258000000, "type": "quantitative"}}},
{"data": {"name": "one"}, "mark": {"type": "text", "align": "left", "baseline": "middle", "fontSize": 15, "color": "black", "dx": -1, "text": "Transaq © 2000-2008 Screen Market Systems"},
"encoding": {"x": {"datum": "2007-07-30", "type": "ordinal"}, "y": {"datum": -9600000, "type": "quantitative"}}}
]
}
]
}
